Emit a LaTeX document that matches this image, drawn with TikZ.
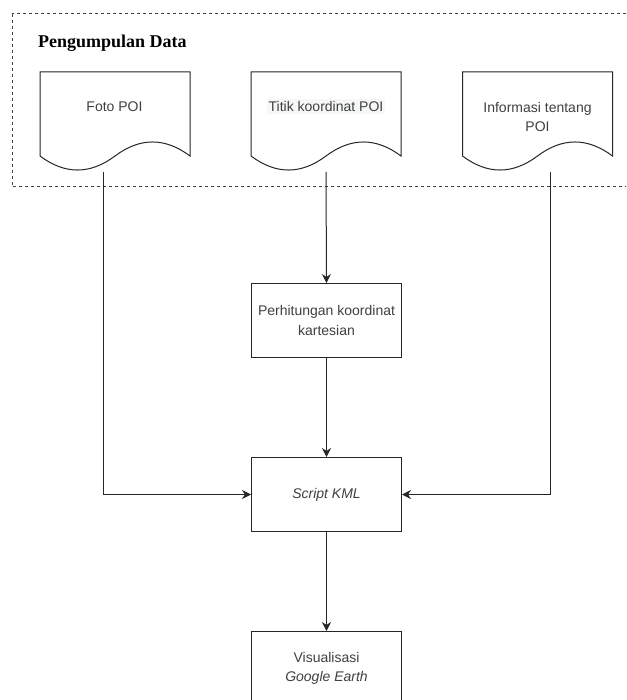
\documentclass[tikz,border=0pt]{standalone}
\usepackage{fontspec}
\setmainfont{Liberation Sans}
\newfontfamily\judulfont{Liberation Serif}
\usetikzlibrary{arrows.meta}
\definecolor{latarlabel}{RGB}{246,247,248}

\begin{document}
\begin{tikzpicture}[x=1pt,y=-1pt,
		garis/.style={draw=black!85,line width=1pt},
		kotak/.style={garis,fill=white,minimum width=150pt,minimum height=74pt,anchor=north west,
			inner sep=0pt,align=center,text=black!75,font=\fontsize{14}{19.5}\selectfont},
		teks/.style={inner sep=0pt,align=center,text=black!75,font=\fontsize{14}{19.5}\selectfont},
		panah/.style={garis,-{Stealth[length=9pt,width=9pt,inset=3pt]}}]
	\useasboundingbox (0,0) rectangle (626,700);
	\clip (0,0) rectangle (626,700);
	% kelompok pengumpulan data
	\draw[black!75,line width=1pt,dash pattern=on 3pt off 3pt] (12,14) rectangle (650,187);
	\node[anchor=west,inner sep=0pt,font=\judulfont\bfseries\fontsize{18}{20}\selectfont] (judul) at (38,43) {Pengumpulan Data};
	% dokumen
	\foreach \x in {40,251,462.5} {
		\draw[garis,fill=white] (\x,72) -- (\x+150,72) -- (\x+150,156)
			.. controls (\x+125,137.3) and (\x+100,137.3) .. (\x+75,156)
			.. controls (\x+50,174.7) and (\x+25,174.7) .. (\x,156) -- cycle;
	}
	\node[teks] (foto) at (114.5,107) {Foto POI};
	\node[teks,fill=latarlabel,inner xsep=1.5pt,inner ysep=2pt] (titik) at (326,106.5) {Titik koordinat POI};
	\node[teks] (info) at (537.5,117) {Informasi tentang\\POI};
	\coordinate (foto-ujung) at (103,172);
	\coordinate (titik-ujung) at (326,172);
	\coordinate (info-ujung) at (550,172);
	% proses
	\node[kotak] (hitung) at (251,283) {Perhitungan koordinat\\kartesian};
	\node[kotak] (kml) at (251,457) {\textit{Script KML}};
	\node[kotak] (visual) at (251,631) {Visualisasi\\\textit{Google Earth}};
	% alur
	\draw[panah] (titik-ujung) -- (hitung.north);
	\draw[panah] (hitung.south) -- (kml.north);
	\draw[panah] (foto-ujung) |- (kml.west);
	\draw[panah] (info-ujung) |- (kml.east);
	\draw[panah] (kml.south) -- (visual.north);
\end{tikzpicture}
\end{document}
